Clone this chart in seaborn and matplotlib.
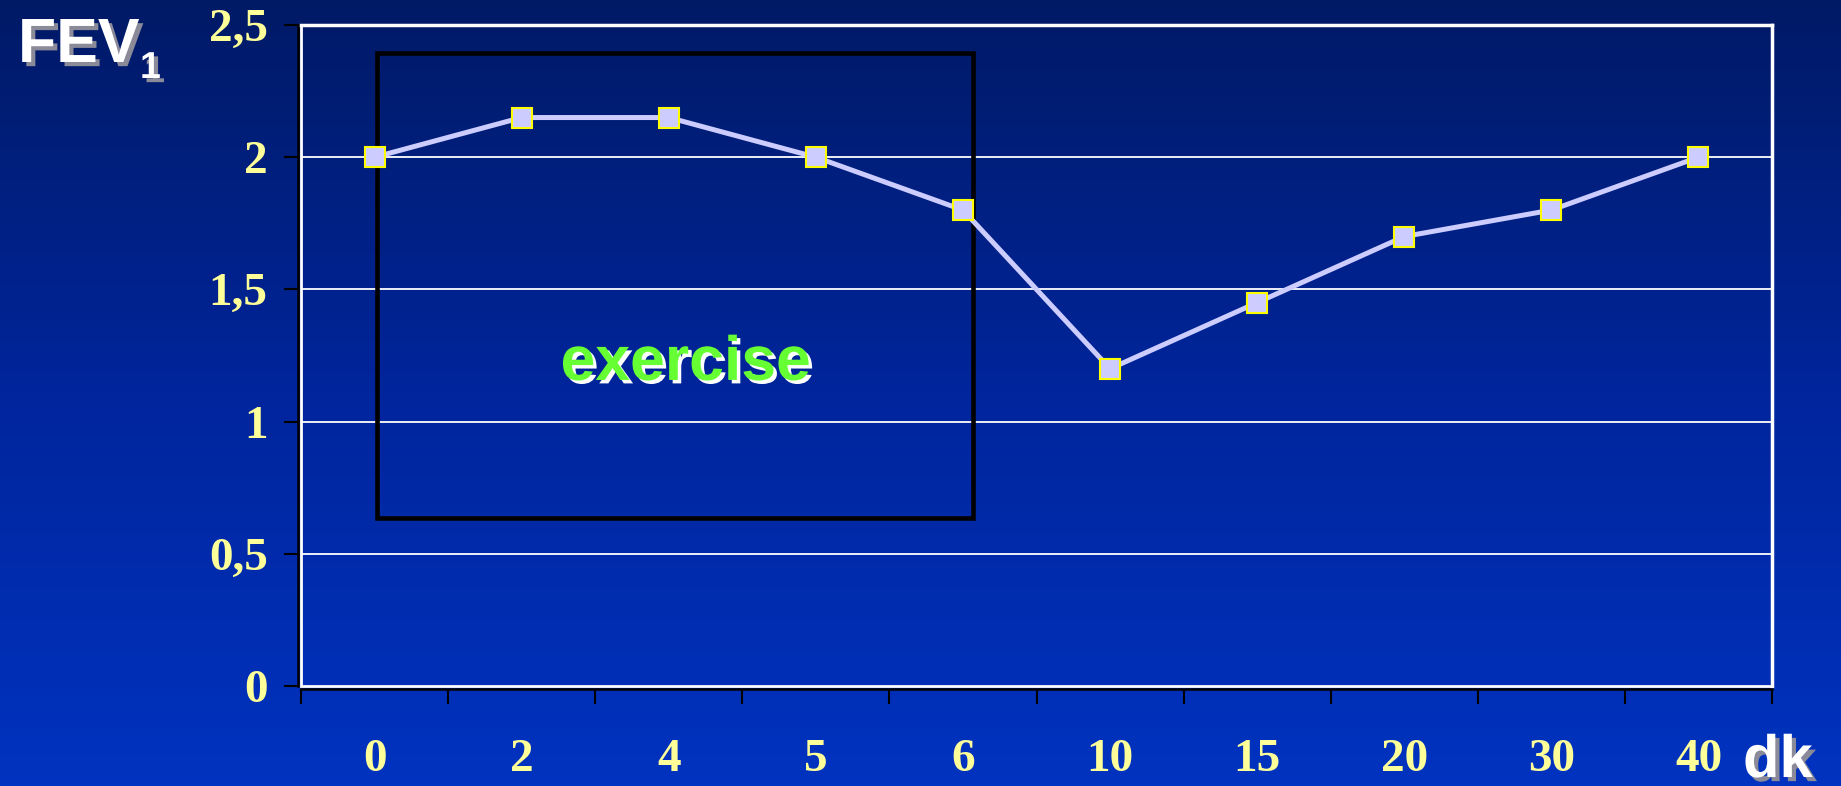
import numpy as np
import pandas as pd
import matplotlib
matplotlib.use("Agg")
import matplotlib.pyplot as plt
import matplotlib.patheffects as pe
from matplotlib.patches import Rectangle
from matplotlib.colors import LinearSegmentedColormap
import seaborn as sns

# FEV1 measured before, during and after exercise (minutes)
minutes = ["0", "2", "4", "5", "6", "10", "15", "20", "30", "40"]
fev1 = [2.0, 2.15, 2.15, 2.0, 1.8, 1.2, 1.45, 1.7, 1.8, 2.0]
y_ticks = [0, 0.5, 1, 1.5, 2, 2.5]
y_tick_labels = ["0", "0,5", "1", "1,5", "2", "2,5"]

# Exercise period box (category index span, FEV1 span)
exercise_x = (0.02, 4.07)
exercise_y = (0.635, 2.393)

df = pd.DataFrame({"minute": minutes, "fev1": fev1})

sns.set_theme(style="white")
plt.rcParams["font.family"] = ["Liberation Sans", "DejaVu Sans"]

W, H = 1841, 786
fig = plt.figure(figsize=(W / 100, H / 100), dpi=100)

# Vertical blue gradient background
bg = fig.add_axes([0, 0, 1, 1], zorder=0)
grad = np.linspace(0, 1, 256).reshape(-1, 1)
cmap = LinearSegmentedColormap.from_list("bg", ["#001a66", "#00259c", "#0033c0"])
bg.imshow(grad, aspect="auto", cmap=cmap, extent=[0, 1, 0, 1], origin="upper")
bg.set_axis_off()

ax = fig.add_axes([301 / W, 1 - 686 / H, (1772 - 301) / W, (686 - 25) / H], zorder=1)
ax.patch.set_alpha(0)

yellow = "#ffff99"
lav = "#ccccff"

sns.pointplot(data=df, x="minute", y="fev1", order=minutes, color=lav,
              markers="s", errorbar=None, ax=ax)
for ln in ax.lines:
    ln.set_color(lav)
    ln.set_linewidth(3.6)
    ln.set_marker("s")
    ln.set_markersize(14)
    ln.set_markerfacecolor(lav)
    ln.set_markeredgecolor("#ffff00")
    ln.set_markeredgewidth(1.5)
    ln.set_zorder(5)
for coll in ax.collections:
    coll.set_visible(False)

ax.set_xlim(-0.5, len(minutes) - 0.5)
ax.set_ylim(0, 2.5)
ax.set_xlabel("")
ax.set_ylabel("")

# Plot area frame: white border, black axis lines (positions set before tick styling)
for side in ["top", "right"]:
    ax.spines[side].set_color("white")
    ax.spines[side].set_linewidth(2.5)
for side in ["left", "bottom"]:
    ax.spines[side].set_color("black")
    ax.spines[side].set_linewidth(1.8)
    ax.spines[side].set_position(("outward", 2))
ax.add_patch(Rectangle((0, 0), 1, 1, transform=ax.transAxes, fill=False,
                       edgecolor="white", lw=2, zorder=3, clip_on=False))

serif = dict(family=["Liberation Serif", "DejaVu Serif"], weight="bold", size=34,
             color=yellow)

# Gridlines
ax.set_yticks(y_ticks)
ax.set_yticklabels(y_tick_labels, **serif)
for yv in y_ticks[1:-1]:
    ax.axhline(yv, color="white", lw=1.3, zorder=2)

# Category boundaries carry the tick marks, centres carry the labels
ax.set_xticks(np.arange(-0.5, len(minutes)), minor=False)
ax.set_xticklabels([])
ax.set_xticks(np.arange(len(minutes)), minor=True)
ax.set_xticklabels(minutes, minor=True, **serif)

ax.tick_params(axis="y", which="major", direction="out", length=10, width=1.5,
               color="black", pad=12, left=True)
ax.tick_params(axis="x", which="major", direction="out", length=11, width=1.5,
               color="black", bottom=True)
ax.tick_params(axis="x", which="minor", length=0, pad=36, bottom=True)

# Exercise period box
ax.add_patch(Rectangle((exercise_x[0], exercise_y[0]),
                       exercise_x[1] - exercise_x[0], exercise_y[1] - exercise_y[0],
                       fill=False, edgecolor="black", lw=3.3, zorder=4))
ax.text((exercise_x[0] + exercise_x[1]) / 2 + 0.07, 1.22, "exercise",
        ha="center", va="center", color="#66ff33", fontsize=45, fontweight="bold",
        zorder=6,
        path_effects=[pe.withSimplePatchShadow(offset=(2.5, -2.5), shadow_rgbFace="white",
                                               alpha=1.0)])

shadow = [pe.withSimplePatchShadow(offset=(3, -3), shadow_rgbFace="#8a8a99", alpha=1.0)]
fig.text(18 / W, 1 - 62 / H, "FEV", ha="left", va="baseline", color="white",
         fontsize=45, fontweight="bold", path_effects=shadow)
fig.text(140 / W, 1 - 78 / H, "1", ha="left", va="baseline", color="white",
         fontsize=27, fontweight="bold", path_effects=shadow)
fig.text(1743 / W, 1 - 777 / H, "dk", ha="left", va="baseline", color="white",
         fontsize=43, fontweight="bold", path_effects=shadow)

fig.savefig("out.png", dpi=100)
